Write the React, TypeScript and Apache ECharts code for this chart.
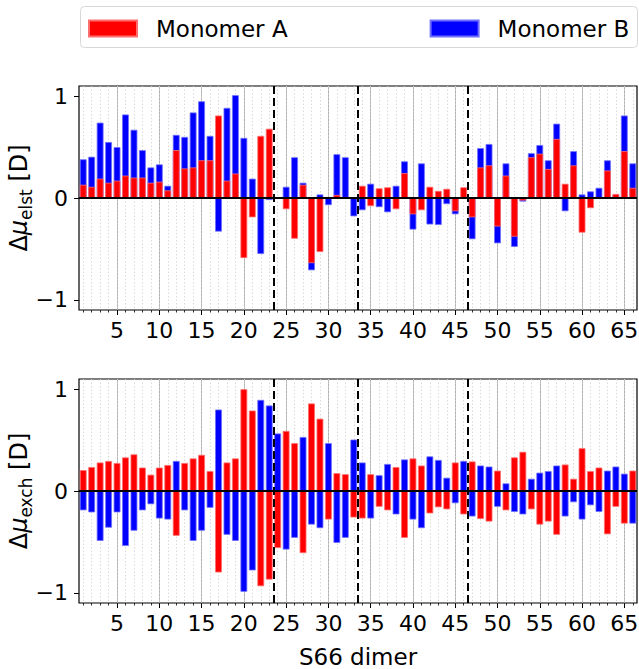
import React, { useEffect, useRef } from 'react';
import * as echarts from 'echarts';

const dimers: number[] = Array.from({ length: 66 }, (_, i) => i + 1);
const xTickLabels = [5, 10, 15, 20, 25, 30, 35, 40, 45, 50, 55, 60, 65];
const yTicks = [-1, 0, 1];
const separators = [23.5, 33.5, 46.5];

// Δμ_elst — red (Monomer A) and blue (Monomer B) bar heights
const elstA = [
  0.13, 0.11, 0.19, 0.15, 0.17, 0.22, 0.2, 0.2, 0.15, 0.16,
  0.075, 0.47, 0.29, 0.3, 0.37, 0.37, 0.81, 0.17, 0.24, -0.59,
  -0.19, 0.61, 0.68, 0, -0.11, -0.4, 0.13, -0.64, -0.53, 0,
  0.03, 0.01, 0, 0.12, -0.08, 0.095, 0.105, -0.11, 0.245, -0.16,
  -0.12, 0.11, 0.07, 0.09, -0.13, 0.105, -0.19, 0.3, 0.32, -0.28,
  0.22, -0.38, -0.025, 0.4, 0.435, 0.285, 0.58, 0.14, 0.32, -0.34,
  -0.1, 0, 0.27, 0.04, 0.46, 0.1,
];
const elstB = [
  0.38, 0.405, 0.74, 0.55, 0.5, 0.82, 0.67, 0.47, 0.3, 0.33,
  0.12, 0.62, 0.6, 0.84, 0.95, 0.61, -0.33, 0.885, 1.01, 0.59,
  0.19, -0.55, -0.02, 0, 0.11, 0.4, 0.15, -0.71, 0.035, -0.07,
  0.43, 0.4, -0.18, -0.12, 0.14, -0.09, -0.14, 0.12, 0.36, -0.31,
  0.34, -0.26, -0.265, -0.06, -0.16, 0, -0.405, 0.49, 0.53, -0.445,
  0.34, -0.48, -0.035, 0.44, 0.52, 0.37, 0.73, -0.13, 0.46, 0.035,
  0.065, 0.1, 0.37, 0.03, 0.81, 0.34,
];

// Δμ_exch
const exchA = [
  0.205, 0.235, 0.28, 0.295, 0.275, 0.33, 0.36, 0.23, 0.16, 0.23,
  0.255, -0.44, 0.275, 0.32, 0.355, 0.195, -0.8, 0.28, 0.32, 1.0,
  0.79, -0.935, -0.87, -0.56, 0.59, 0.47, -0.61, 0.86, 0.71, -0.28,
  0.175, 0.165, -0.26, -0.27, 0.165, -0.155, -0.19, 0.235, -0.46, 0.32,
  0.25, -0.22, -0.16, -0.18, 0.28, -0.23, 0.29, -0.275, -0.3, 0.2,
  -0.19, 0.33, 0.385, -0.18, -0.33, -0.3, -0.43, 0.26, 0.12, 0.42,
  0.195, 0.23, -0.425, -0.155, -0.32, 0.2,
];
const exchB = [
  -0.19, -0.21, -0.49, -0.36, -0.21, -0.54, -0.39, -0.19, -0.13, -0.27,
  -0.28, 0.295, -0.19, -0.49, -0.39, -0.165, 0.8, -0.43, -0.49, -0.99,
  -0.78, 0.895, 0.84, 0.565, -0.575, -0.46, 0.53, -0.33, -0.365, 0.47,
  -0.51, -0.46, 0.505, 0.28, -0.27, 0.155, 0.265, -0.23, 0.31, -0.28,
  -0.365, 0.34, 0.305, 0.13, -0.12, 0.295, -0.25, 0.25, 0.24, -0.155,
  0.075, -0.205, -0.23, 0.12, 0.18, 0.195, 0.25, -0.25, -0.11, -0.28,
  -0.14, -0.205, 0.2, 0.24, 0.17, -0.32,
];

const FONT = 'DejaVu Sans';
const RED = '#ff0000';
const BLUE = '#0000ff';

export default function App() {
  const ref = useRef<HTMLDivElement>(null);

  useEffect(() => {
    if (!ref.current) return;
    const chart = echarts.init(ref.current, null, { renderer: 'svg' });

    const panels = [
      { top: 86, a: elstA, b: elstB, sub: 'elst' },
      { top: 379, a: exchA, b: exchB, sub: 'exch' },
    ];

    const grid: any[] = [];
    const xAxis: any[] = [];
    const yAxis: any[] = [];
    const series: any[] = [];

    panels.forEach((p, g) => {
      grid.push({
        left: 79,
        right: 2,
        top: p.top,
        height: 224,
        containLabel: false,
        outerBoundsMode: 'none',
        show: true,
        borderColor: '#000',
        borderWidth: 1.2,
        backgroundColor: 'transparent',
      });
      xAxis.push({
        type: 'value',
        gridIndex: g,
        min: 0.5,
        max: 66.5,
        position: 'bottom',
        axisLine: { show: false, onZero: false },
        axisTick: { show: true, length: 5, customValues: xTickLabels, lineStyle: { color: '#000', width: 1 } },
        axisLabel: {
          show: true,
          customValues: xTickLabels,
          margin: 9,
          fontSize: 22,
          color: '#000',
          fontFamily: FONT,
        },
        splitLine: { show: true, lineStyle: { color: '#b0b0b0', width: 1 } },
        name: g === 1 ? 'S66 dimer' : '',
        nameLocation: 'middle',
        nameGap: 42,
        nameMoveOverlap: false,
        nameTextStyle: { fontSize: 23, color: '#000', fontFamily: FONT },
      });
      xAxis.push({
        type: 'value',
        gridIndex: g,
        min: 0.5,
        max: 66.5,
        position: 'bottom',
        axisLine: { show: false, onZero: false },
        axisTick: { show: true, length: 2.5, customValues: dimers, lineStyle: { color: '#000', width: 0.8 } },
        axisLabel: { show: false },
        splitLine: { show: true, lineStyle: { color: '#d0d0d0', width: 0.8, type: [1.5, 2] } },
      });
      yAxis.push({
        type: 'value',
        gridIndex: g,
        min: -1.1,
        max: 1.1,
        axisLine: { show: false, onZero: false },
        axisTick: { show: true, length: 5, customValues: yTicks, lineStyle: { color: '#000', width: 1 } },
        axisLabel: {
          customValues: yTicks,
          margin: 11,
          fontSize: 22,
          color: '#000',
          fontFamily: FONT,
          formatter: (v: number) => (v < 0 ? '\u2212' + Math.abs(v) : String(v)),
        },
        splitLine: { show: false },
        name: `{n|Δ}{i|μ}{s|${p.sub}}{n| [D]}`,
        nameLocation: 'middle',
        nameRotate: 90,
        nameGap: 45,
        nameMoveOverlap: false,
        nameTextStyle: {
          color: '#000',
          fontFamily: FONT,
          rich: {
            n: { fontSize: 24, fontFamily: FONT, color: '#000', lineHeight: 30 },
            i: { fontSize: 24, fontFamily: FONT, fontStyle: 'italic', color: '#000', lineHeight: 30 },
            s: { fontSize: 17, fontFamily: FONT, color: '#000', verticalAlign: 'bottom', lineHeight: 19 },
          },
        },
      });

      const common = {
        type: 'bar',
        xAxisIndex: 2 * g,
        yAxisIndex: g,
        barWidth: 6.8,
        barGap: '-100%',
        silent: true,
      };
      series.push({
        ...common,
        name: 'Monomer B',
        data: dimers.map((d, i) => [d, p.b[i]]),
        itemStyle: { color: BLUE, borderColor: 'rgba(110,110,255,1)', borderWidth: 0.8 },
      });
      series.push({
        ...common,
        name: 'Monomer A',
        data: dimers.map((d, i) => [d, p.a[i]]),
        itemStyle: { color: RED, borderColor: 'rgba(255,110,110,1)', borderWidth: 0.8 },
        markLine: {
          silent: true,
          symbol: ['none', 'none'],
          label: { show: false },
          animation: false,
          data: [
            ...separators.map((s) => ({ xAxis: s, lineStyle: { color: '#000', width: 2, type: [8, 4] } })),
            { yAxis: 0, lineStyle: { color: '#000', width: 1.8, type: 'solid' } },
          ],
        },
      });
    });

    chart.setOption({
      animation: false,
      backgroundColor: '#fff',
      graphic: [
        {
          type: 'rect',
          left: 80,
          top: 6,
          silent: true,
          shape: { width: 557, height: 41, r: 4 },
          style: { fill: '#fff', stroke: '#d8d8d8', lineWidth: 1 },
        },
      ],
      legend: {
        data: ['Monomer A', 'Monomer B'],
        left: 88,
        top: 17,
        padding: 0,
        itemWidth: 48,
        itemHeight: 16,
        itemGap: 142,
        icon: 'rect',
        selectedMode: false,
        textStyle: { fontSize: 23, fontFamily: FONT, color: '#000', padding: [0, 0, 0, 14] },
        z: 10,
      },
      grid,
      xAxis,
      yAxis,
      series,
    });

    return () => chart.dispose();
  }, []);

  return (
    <div
      ref={ref}
      style={{ position: 'fixed', left: 0, top: 0, width: 639, height: 669 }}
    />
  );
}
